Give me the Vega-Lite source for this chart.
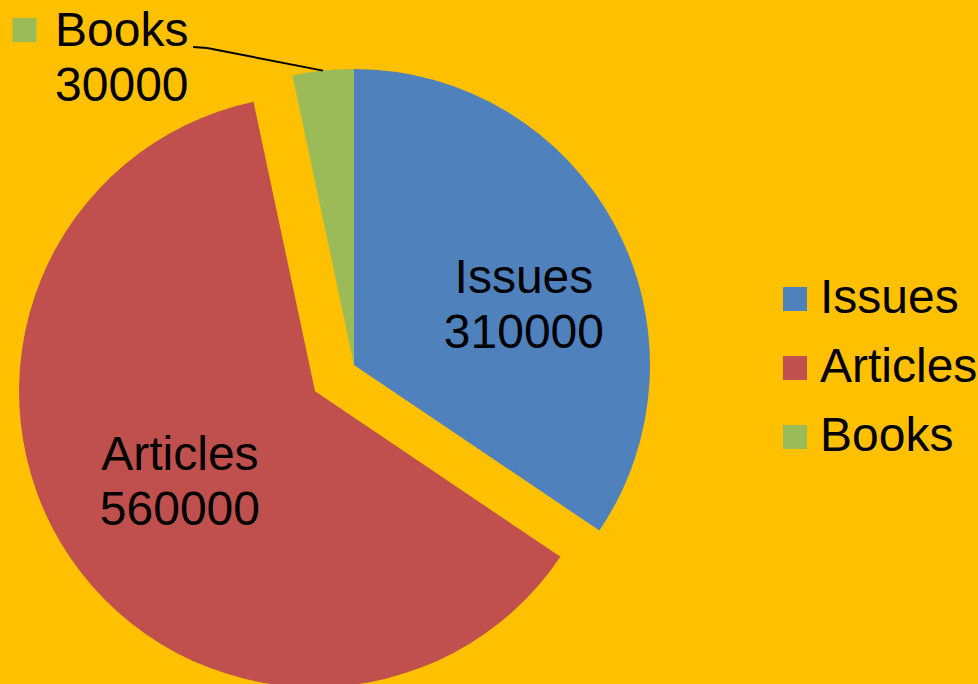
{
  "$schema": "https://vega.github.io/schema/vega-lite/v6.json",
  "width": 978,
  "height": 684,
  "autosize": "none",
  "padding": 0,
  "background": "#FFC000",
  "config": {"view": {"stroke": null}, "font": "Liberation Sans"},
  "data": {"values": [
    {"category": "Issues", "value": 310000},
    {"category": "Articles", "value": 560000},
    {"category": "Books", "value": 30000}
  ]},
  "transform": [
    {"calculate": "indexof(['Issues', 'Articles', 'Books'], datum.category)", "as": "rank"},
    {"window": [{"op": "sum", "field": "value", "as": "v1"}], "sort": [{"field": "rank", "order": "ascending"}], "frame": [null, 0]},
    {"calculate": "datum.v1 - datum.value", "as": "v0"},
    {"joinaggregate": [{"op": "sum", "field": "value", "as": "total"}]},
    {"calculate": "PI * (datum.v0 + datum.v1) / datum.total", "as": "mid"},
    {"calculate": "datum.category === 'Articles' ? 47 : 0", "as": "explode"},
    {"calculate": "datum.explode * sin(datum.mid)", "as": "cx"},
    {"calculate": "datum.explode * cos(datum.mid)", "as": "cy"},
    {"calculate": "datum.cx + 296 * sin(datum.mid)", "as": "ex"},
    {"calculate": "datum.cy + 296 * cos(datum.mid)", "as": "ey"},
    {"calculate": "datum.cx + 163 * sin(datum.mid)", "as": "lx"},
    {"calculate": "datum.cy + 163 * cos(datum.mid)", "as": "ly"},
    {"calculate": "datum.category + '\\n' + datum.value", "as": "label"}
  ],
  "layer": [
    {
      "mark": {"type": "arc", "outerRadius": 296},
      "encoding": {
        "x": {"field": "cx", "type": "quantitative", "scale": {"domain": [-354, 624], "nice": false, "zero": false}, "axis": null},
        "y": {"field": "cy", "type": "quantitative", "scale": {"domain": [-319, 365], "nice": false, "zero": false}, "axis": null},
        "theta": {"field": "v1", "type": "quantitative", "stack": null, "scale": {"zero": true, "nice": false}},
        "theta2": {"field": "v0"},
        "color": {
          "field": "category", "type": "nominal",
          "scale": {"domain": ["Issues", "Articles", "Books"], "range": ["#4F81BD", "#C0504D", "#9BBB59"]},
          "legend": {
            "orient": "none", "legendX": 771, "legendY": 275, "title": null,
            "labelFontSize": 48, "labelFont": "Liberation Sans", "labelColor": "#000000",
            "symbolType": "square", "symbolSize": 576, "symbolStrokeWidth": 0,
            "labelOffset": 1, "rowPadding": 21, "padding": 0
          }
        }
      }
    },
    {
      "transform": [{"filter": "datum.category === 'Articles'"}],
      "mark": {"type": "text", "fontSize": 48, "font": "Liberation Sans", "align": "center", "baseline": "alphabetic", "lineBreak": "\n", "lineHeight": 55, "dy": -12, "color": "#000000"},
      "encoding": {
        "x": {"field": "lx", "type": "quantitative"},
        "y": {"field": "ly", "type": "quantitative"},
        "text": {"field": "label"}
      }
    },
    {
      "transform": [{"filter": "datum.category === 'Issues'"}],
      "mark": {"type": "text", "fontSize": 48, "font": "Liberation Sans", "align": "center", "baseline": "alphabetic", "lineBreak": "\n", "lineHeight": 55, "dx": 26, "dy": 5, "color": "#000000"},
      "encoding": {
        "x": {"field": "lx", "type": "quantitative"},
        "y": {"field": "ly", "type": "quantitative"},
        "text": {"field": "label"}
      }
    },
    {
      "transform": [{"filter": "datum.category === 'Books'"}],
      "mark": {"type": "text", "fontSize": 48, "font": "Liberation Sans", "align": "left", "baseline": "alphabetic", "lineBreak": "\n", "lineHeight": 55, "dx": -268, "dy": -24.6, "color": "#000000"},
      "encoding": {
        "x": {"field": "ex", "type": "quantitative"},
        "y": {"field": "ey", "type": "quantitative"},
        "text": {"field": "label"}
      }
    },
    {
      "transform": [
        {"filter": "datum.category === 'Books'"},
        {"calculate": "datum.ex - 116", "as": "bx"},
        {"calculate": "datum.ey + 22.6", "as": "by"}
      ],
      "mark": {"type": "rule", "color": "#000000", "strokeWidth": 2},
      "encoding": {
        "x": {"field": "ex", "type": "quantitative"},
        "y": {"field": "ey", "type": "quantitative"},
        "x2": {"field": "bx"},
        "y2": {"field": "by"}
      }
    },
    {
      "transform": [
        {"filter": "datum.category === 'Books'"},
        {"calculate": "datum.ex - 116", "as": "bx"},
        {"calculate": "datum.ey + 22.6", "as": "by"},
        {"calculate": "datum.ex - 130", "as": "cx2"},
        {"calculate": "datum.ey + 23.6", "as": "cy2"}
      ],
      "mark": {"type": "rule", "color": "#000000", "strokeWidth": 2},
      "encoding": {
        "x": {"field": "bx", "type": "quantitative"},
        "y": {"field": "by", "type": "quantitative"},
        "x2": {"field": "cx2"},
        "y2": {"field": "cy2"}
      }
    },
    {
      "transform": [{"filter": "datum.category === 'Books'"}],
      "mark": {"type": "point", "shape": "square", "filled": true, "opacity": 1, "size": 576, "xOffset": -298.6, "yOffset": -40.6, "strokeWidth": 0},
      "encoding": {
        "x": {"field": "ex", "type": "quantitative"},
        "y": {"field": "ey", "type": "quantitative"},
        "color": {"field": "category", "type": "nominal"}
      }
    }
  ]
}
